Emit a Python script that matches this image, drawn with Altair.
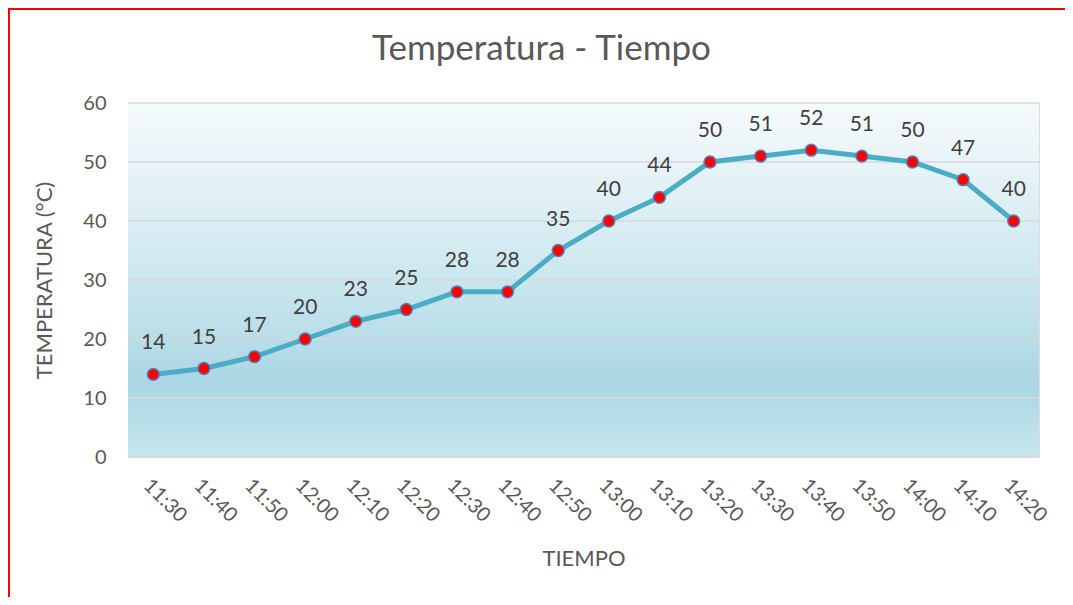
import altair as alt
import pandas as pd

tiempos = ["11:30", "11:40", "11:50", "12:00", "12:10", "12:20", "12:30", "12:40",
           "12:50", "13:00", "13:10", "13:20", "13:30", "13:40", "13:50", "14:00",
           "14:10", "14:20"]
temperaturas = [14, 15, 17, 20, 23, 25, 28, 28, 35, 40, 44, 50, 51, 52, 51, 50, 47, 40]
y_ticks = [0, 10, 20, 30, 40, 50, 60]
titulo = ["Temperatura - Tiempo"]

df = pd.DataFrame({"Tiempo": tiempos, "Temp": temperaturas})
df_grid = pd.DataFrame({"Temp": y_ticks})
df_title = pd.DataFrame({"t": titulo})

FONT = "Lato"
W, H = 911, 354

x_enc = alt.X("Tiempo:N", sort=tiempos,
              scale=alt.Scale(type="point", padding=0.5),
              axis=alt.Axis(title="TIEMPO", labelAngle=45, labelAlign="left",
                            labelBaseline="top", labelPadding=18, ticks=False,
                            domain=False, grid=False, labelFontSize=20,
                            labelColor="#595959", titleFontSize=22,
                            titleColor="#595959", titleFontWeight="normal",
                            titlePadding=23, labelFont=FONT, titleFont=FONT))
y_scale = alt.Scale(domain=[0, 60], nice=False)
y_enc = alt.Y("Temp:Q", scale=y_scale,
              axis=alt.Axis(title="TEMPERATURA (°C)", values=y_ticks, ticks=False,
                            domain=False, grid=False, labelFontSize=20,
                            labelColor="#595959", labelPadding=22, titleFontSize=22,
                            titleColor="#595959", titleFontWeight="normal",
                            titlePadding=26, labelFont=FONT, titleFont=FONT))

gradient = alt.LinearGradient(
    gradient="linear", x1=0, y1=0, x2=0, y2=1,
    stops=[alt.GradientStop(offset=0, color="#F6FAFC"),
           alt.GradientStop(offset=0.45, color="#D0E9F0"),
           alt.GradientStop(offset=0.8, color="#AAD6E3"),
           alt.GradientStop(offset=1, color="#C8E7EF")])

bg = alt.Chart(df).mark_rect(fill=gradient, stroke=None).encode(
    x=alt.value(0), x2=alt.value(W), y=alt.value(0), y2=alt.value(H)
).transform_filter(alt.datum.Tiempo == tiempos[0])

grid = alt.Chart(df_grid).mark_rule(color="#D9D9D9", strokeWidth=1.5).encode(
    y=alt.Y("Temp:Q", scale=y_scale), x=alt.value(0), x2=alt.value(W))

base = alt.Chart(df).encode(x=x_enc, y=y_enc)

line = base.mark_line(color="#4BACC6", strokeWidth=5)
points = base.mark_point(filled=True, fill="#FF0000", stroke="#4F81BD",
                         strokeWidth=1.5, size=140, opacity=1, fillOpacity=1)
labels = base.mark_text(dy=-31, fontSize=21, color="#404040", font=FONT).encode(
    text="Temp:Q")

title = alt.Chart(df_title).mark_text(fontSize=35, color="#595959", font=FONT,
                                      baseline="middle", align="center").encode(
    text="t:N", x=alt.value(W / 2 - 42), y=alt.value(-54))

border = alt.Chart(df).mark_rect(fill=None, stroke="#FF0000", strokeWidth=2,
                                 clip=False).encode(
    x=alt.value(-119), x2=alt.value(W + 60),
    y=alt.value(-94), y2=alt.value(H + 160)).transform_filter(
    alt.datum.Tiempo == tiempos[0])

chart = alt.layer(bg, grid, line, points, labels, title, border).properties(
    width=W, height=H,
    autosize=alt.AutoSizeParams(type="none"),
    padding={"left": 120, "top": 95, "right": 26, "bottom": 140},
).configure_view(stroke=None).configure(background="white")

chart.save("out.html", embed_options={"renderer": "svg", "actions": False})
